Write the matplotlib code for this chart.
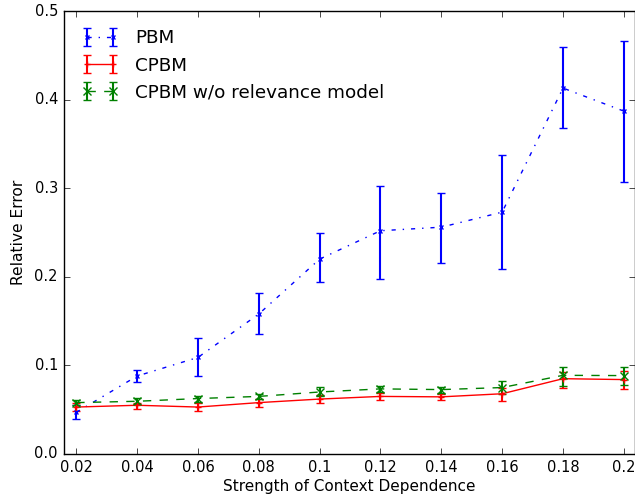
import numpy as np
import matplotlib
matplotlib.use("Agg")
import matplotlib.pyplot as plt

# context dependence strength
x = [0.02, 0.04, 0.06, 0.08, 0.10, 0.12, 0.14, 0.16, 0.18, 0.20]

# PBM: mean, lower, upper
pbm = [0.047, 0.088, 0.109, 0.158, 0.220, 0.252, 0.256, 0.273, 0.413, 0.387]
pbm_lo = [0.040, 0.081, 0.088, 0.135, 0.194, 0.198, 0.216, 0.209, 0.368, 0.307]
pbm_hi = [0.055, 0.095, 0.131, 0.182, 0.249, 0.303, 0.295, 0.337, 0.459, 0.466]

# CPBM
cpbm = [0.053, 0.055, 0.053, 0.058, 0.062, 0.065, 0.0645, 0.068, 0.085, 0.084]
cpbm_lo = [0.049, 0.051, 0.048, 0.053, 0.057, 0.0615, 0.061, 0.060, 0.075, 0.0735]
cpbm_hi = [0.057, 0.058, 0.058, 0.062, 0.067, 0.069, 0.068, 0.075, 0.092, 0.094]

# CPBM without relevance model
norel = [0.058, 0.0595, 0.0626, 0.065, 0.070, 0.0735, 0.0727, 0.075, 0.0888, 0.0885]
norel_lo = [0.055, 0.056, 0.059, 0.062, 0.065, 0.070, 0.069, 0.068, 0.0765, 0.078]
norel_hi = [0.061, 0.063, 0.066, 0.068, 0.0757, 0.077, 0.076, 0.082, 0.098, 0.098]


def err(mid, lo, hi):
    mid = np.array(mid)
    return [mid - np.array(lo), np.array(hi) - mid]


plt.style.use("classic")
fig = plt.figure(figsize=(6.35, 4.99), dpi=100)
ax = fig.add_axes([63.5 / 635, 45 / 499, 571 / 635, 443 / 499])

ax.errorbar(x, pbm, yerr=err(pbm, pbm_lo, pbm_hi), color="b", linestyle="-.",
            marker="x", markersize=3.5, elinewidth=1.5, capsize=3,
            markeredgewidth=1, label="PBM")
ax.errorbar(x, cpbm, yerr=err(cpbm, cpbm_lo, cpbm_hi), color="r", linestyle="-",
            marker="+", markersize=5, elinewidth=1.5, capsize=3,
            markeredgewidth=1, label="CPBM")
ax.errorbar(x, norel, yerr=err(norel, norel_lo, norel_hi), color="g",
            linestyle="--", marker="x", markersize=6, elinewidth=1.5, capsize=3,
            markeredgewidth=1, label="CPBM w/o relevance model")

ax.set_xlim(0.0158, 0.2035)
ax.set_ylim(0, 0.5)
ax.set_xticks(x)
ax.set_xticklabels(["0.02", "0.04", "0.06", "0.08", "0.1", "0.12", "0.14",
                    "0.16", "0.18", "0.2"])
ax.set_yticks([0.0, 0.1, 0.2, 0.3, 0.4, 0.5])
ax.tick_params(labelsize=10.5)
ax.set_xlabel("Strength of Context Dependence", fontsize=11, labelpad=3)
ax.set_ylabel("Relative Error", fontsize=11.2, labelpad=6)

ax.legend(loc="upper left", frameon=False, fontsize=13.2, numpoints=2,
          borderaxespad=0.6, handletextpad=0.9)

fig.savefig("out.png", dpi=100)
